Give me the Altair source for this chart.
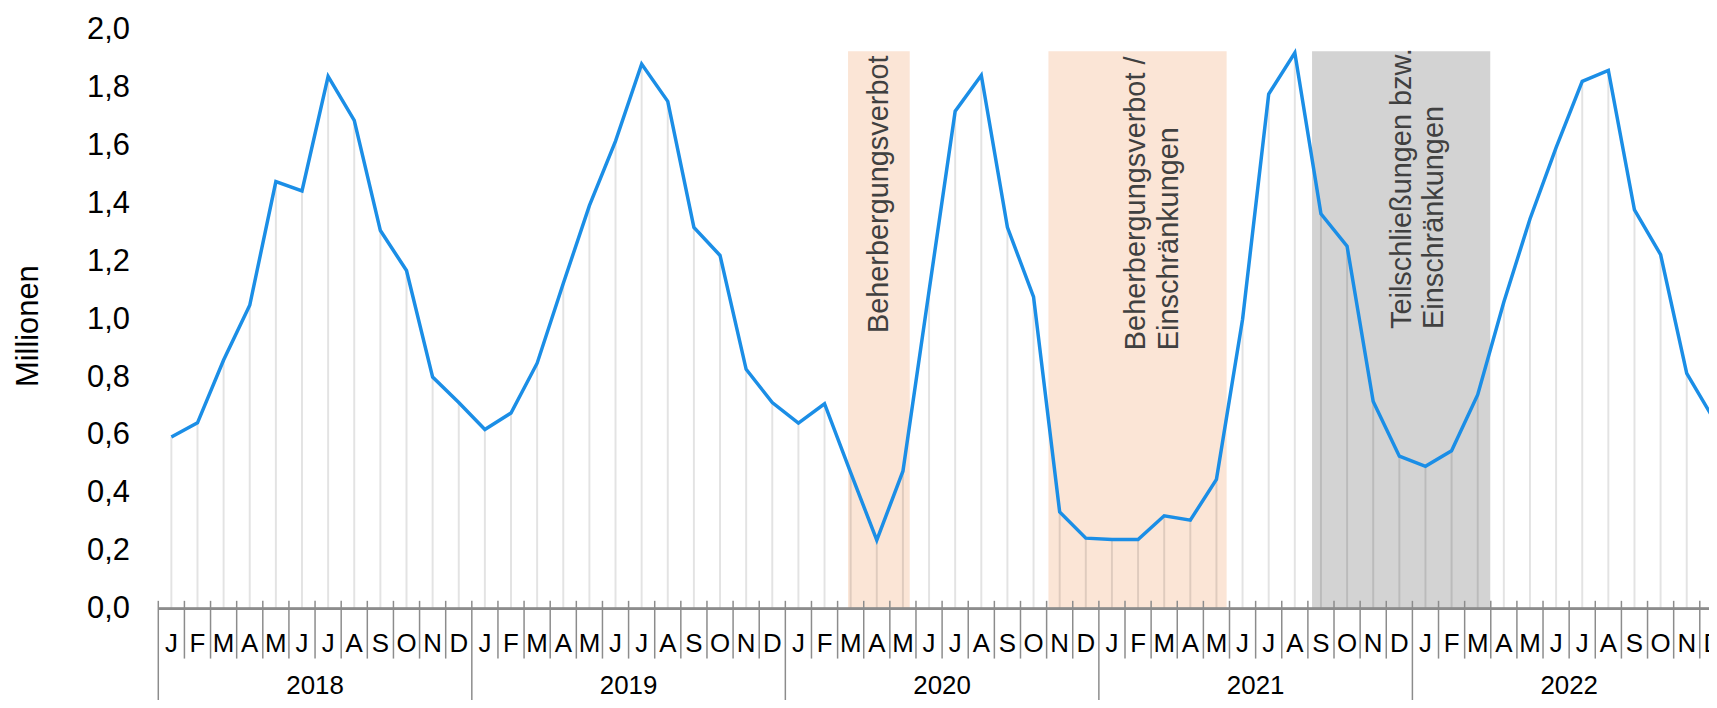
import altair as alt
import pandas as pd

# ---------------- data ----------------
years = ["2018", "2019", "2020", "2021", "2022"]
month_letters = ["J", "F", "M", "A", "M", "J", "J", "A", "S", "O", "N", "D"]

v2018 = [0.593, 0.642, 0.859, 1.048, 1.475, 1.443, 1.838, 1.686, 1.306, 1.168, 0.800, 0.712]
v2019 = [0.619, 0.676, 0.848, 1.123, 1.392, 1.615, 1.881, 1.752, 1.317, 1.220, 0.827, 0.712]
v2020 = [0.641, 0.708, 0.470, 0.237, 0.475, 1.097, 1.718, 1.842, 1.317, 1.077, 0.334, 0.244]
v2021 = [0.239, 0.239, 0.321, 0.306, 0.447, 1.000, 1.777, 1.920, 1.364, 1.252, 0.716, 0.527]
v2022 = [0.492, 0.546, 0.739, 1.059, 1.346, 1.592, 1.821, 1.859, 1.377, 1.223, 0.813, 0.660]

# shaded periods, in months since Jan 2018
region_start = [26.40, 34.07, 44.16]
region_end = [28.76, 40.89, 50.98]
region_top = [1.925, 1.925, 1.925]
region_kind = ["verbot", "verbot", "teil"]
region_labels = [
    "Beherbergungsverbot",
    "Beherbergungsverbot /\nEinschränkungen",
    "Teilschließungen bzw.\nEinschränkungen",
]
label_x = [27.60, 37.41, 47.59]
label_y = [0.952, 0.893, 0.966]

# ---------------- tables ----------------
series = v2018 + v2019 + v2020 + v2021 + v2022
n = len(series)
df = pd.DataFrame({"i": list(range(n)), "value": series})
df["xc"] = df["i"] + 0.5
df["zero"] = 0.0

months_df = pd.DataFrame({
    "xc": [k + 0.5 for k in range(n)],
    "m": [month_letters[k % 12] for k in range(n)],
})
month_ticks = pd.DataFrame({"x": [k for k in range(n + 1) if k % 12 != 0]})
year_ticks = pd.DataFrame({"x": [12 * j for j in range(len(years) + 1)]})
years_df = pd.DataFrame({"xc": [12 * j + 6 for j in range(len(years))], "y": years})

regions = pd.DataFrame({
    "x1": region_start, "x2": region_end, "y1": [0.0] * 3, "y2": region_top,
    "kind": region_kind,
})
labels_df = pd.DataFrame({"x": label_x, "y": label_y, "t": region_labels})

# ---------------- styling ----------------
FONT = "Liberation Sans, Arial, Helvetica, sans-serif"
MONTH_PX = 26.25
W = 1558                          # the window cuts the last month in half
VISIBLE_MONTHS = W / MONTH_PX
H = 582
BLUE = "#1B8EE6"
AXIS_GREY = "#8C8C8C"

xscale = alt.Scale(domain=[0, VISIBLE_MONTHS], nice=False, zero=False)
yscale = alt.Scale(domain=[0, 2], nice=False, zero=True)

yaxis = alt.Axis(
    values=[0, 0.2, 0.4, 0.6, 0.8, 1.0, 1.2, 1.4, 1.6, 1.8, 2.0],
    labelExpr="replace(format(datum.value, '.1f'), '.', ',')",
    labelFontSize=31, labelFont=FONT, labelColor="#000000",
    labelPadding=29, ticks=False, domain=False, grid=False, title=None,
)

rects = alt.Chart(regions).mark_rect().encode(
    x=alt.X("x1:Q", scale=xscale, axis=None),
    x2="x2:Q",
    y=alt.Y("y1:Q", scale=yscale, axis=yaxis),
    y2="y2:Q",
    color=alt.Color("kind:N", scale=alt.Scale(domain=["verbot", "teil"],
                                              range=["#FBE5D6", "#D3D3D3"]), legend=None),
)

drops = alt.Chart(df).mark_rule(color="#000000", opacity=0.11, strokeWidth=2).encode(
    x=alt.X("xc:Q", scale=xscale, axis=None),
    y=alt.Y("zero:Q", scale=yscale, axis=yaxis),
    y2="value:Q",
)

texts = alt.Chart(labels_df).mark_text(
    angle=270, align="left", baseline="middle", fontSize=29, font=FONT,
    color="#404040", lineBreak="\n", lineHeight=33,
).encode(
    x=alt.X("x:Q", scale=xscale, axis=None),
    y=alt.Y("y:Q", scale=yscale, axis=yaxis),
    text="t:N",
)

line = alt.Chart(df).mark_line(color=BLUE, strokeWidth=3.5, strokeJoin="miter").encode(
    x=alt.X("xc:Q", scale=xscale, axis=None),
    y=alt.Y("value:Q", scale=yscale, axis=yaxis),
)

axis_line = alt.Chart(year_ticks).mark_rule(color=AXIS_GREY, strokeWidth=2).encode(
    x=alt.value(0), x2=alt.value(W), y=alt.value(H),
)

mticks = alt.Chart(month_ticks).mark_rule(color=AXIS_GREY, strokeWidth=1.5).encode(
    x=alt.X("x:Q", scale=xscale, axis=None),
    y=alt.value(H - 8), y2=alt.value(H + 50),
)

yticks = alt.Chart(year_ticks).mark_rule(color=AXIS_GREY, strokeWidth=1.5).encode(
    x=alt.X("x:Q", scale=xscale, axis=None),
    y=alt.value(H - 8), y2=alt.value(H + 130),
)

mlabels = alt.Chart(months_df).mark_text(
    fontSize=26, font=FONT, color="#000000", baseline="middle", align="center",
).encode(
    x=alt.X("xc:Q", scale=xscale, axis=None),
    y=alt.value(H + 35.5),
    text="m:N",
)

ylabels = alt.Chart(years_df).mark_text(
    fontSize=26, font=FONT, color="#000000", baseline="middle", align="center",
).encode(
    x=alt.X("xc:Q", scale=xscale, axis=None),
    y=alt.value(H + 78),
    text="y:N",
)

ytitle = alt.Chart(years_df.head(1)).mark_text(
    angle=270, fontSize=31, font=FONT, color="#000000", baseline="middle", align="center",
).encode(
    x=alt.value(-130), y=alt.value(298), text=alt.value("Millionen"),
)

chart = alt.layer(
    rects, drops, texts, line, axis_line, mticks, yticks, mlabels, ylabels, ytitle
).properties(
    width=W, height=H,
    autosize=alt.AutoSizeParams(type="none"),
    padding={"left": 151, "top": 20, "right": 0, "bottom": 90},
).configure_view(strokeWidth=0)

chart.save("out.html", embed_options={"renderer": "svg", "actions": False})
